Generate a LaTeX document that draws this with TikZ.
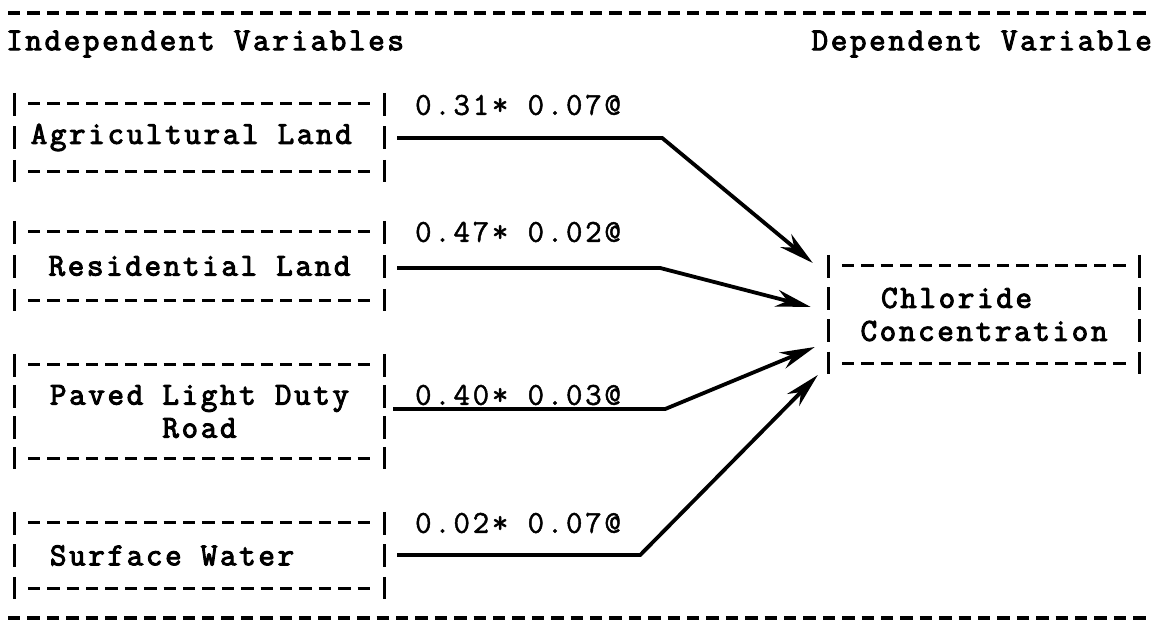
\documentclass[tikz,border=0pt]{standalone}
\usepackage{fontspec}
\newfontfamily\tw[LetterSpace=8.5, FakeBold=3.2]{Latin Modern Mono}
\newfontfamily\twl[LetterSpace=8.5, FakeBold=1.4]{Latin Modern Mono}
\usetikzlibrary{arrows.meta,calc}
\tikzset{
  txt/.style={font={\tw\fontsize{32}{33}\selectfont}, inner sep=0pt},
  tbox/.style={txt, align=center, minimum width=369pt},
  lab/.style={inner sep=0pt, font={\twl\fontsize{32}{33}\selectfont}},
  rule/.style={line width=3.8pt, dash pattern=on 12.4pt off 7pt},
  hrow/.style={line width=3.2pt, dash pattern=on 12.4pt off 7pt},
  vbar/.style={line width=2.9pt},
  conn/.style={line width=3.8pt, line join=miter, -{Stealth[length=35pt,width=17pt,inset=11pt]}},
}
\newcommand\tframe[2]{%
  \draw[hrow] ($(#1.north west)+(13,11)$) -- ($(#1.north east)+(-13,11)$);
  \draw[hrow] ($(#1.south west)+(13,-11)$) -- ($(#1.south east)+(-13,-11)$);
  \draw[vbar,dash pattern=on 23pt off #2pt] (#1.north west) -- (#1.south west);
  \draw[vbar,dash pattern=on 23pt off #2pt] (#1.north east) -- (#1.south east);
}
\begin{document}
\begin{tikzpicture}[x=1pt,y=-1pt]
\useasboundingbox (0,0) rectangle (1156,621);
\fill[white] (0,0) rectangle (1156,621);
% rules
\coordinate (rt1) at (8,13);
\coordinate (rt2) at (1148,13);
\coordinate (rb1) at (8,618);
\coordinate (rb2) at (1148,618);
\draw[rule] (rt1) -- (rt2);
\draw[rule] (rb1) -- (rb2);
% headers
\node[txt, anchor=west] (hind) at (6,44) {Independent Variables};
\node[txt, anchor=east] (hdep) at (1152,44) {Dependent Variable};
% boxes
\node[tbox, minimum height=89pt] (agr) at (199.5,137.5) {Agricultural Land\phantom{x}};
\node[tbox, minimum height=90pt] (res) at (199.5,266) {Residential Land};
\node[tbox, minimum height=115pt] (pav) at (199.5,411.5) {Paved Light Duty\\Road};
\node[tbox, minimum height=87pt] (sur) at (199.5,555.5) {Surface Water\phantom{xxx}};
\node[tbox, minimum width=310pt, minimum height=119pt] (chl) at (984,314.5) {Chloride\phantom{xxx}\\Concentration};
\tframe{agr}{10.5}
\tframe{res}{11}
\tframe{pav}{8}
\tframe{sur}{9.5}
\tframe{chl}{9.3}
% labels
\node[lab] (l1) at (518,105) {0.31* 0.07@};
\node[lab] (l2) at (518,232) {0.47* 0.02@};
\node[lab] (l3) at (518,395) {0.40* 0.03@};
\node[lab] (l4) at (518,523) {0.02* 0.07@};
% connectors
\draw[conn] ($(agr.east)+(13,0.5)$) -- ++(265,0) -- ($(chl.west)+(-16,-51.5)$);
\draw[conn] ($(res.east)+(13,2)$) -- ++(263,0) -- ($(chl.west)+(-18,-7.5)$);
\draw[conn] ($(pav.east)+(9,-2.5)$) -- ++(272,0) -- ($(chl.west)+(-14,32.5)$);
\draw[conn] ($(sur.east)+(13,-0.5)$) -- ++(243,0) -- ($(chl.west)+(-11,60.5)$);
\end{tikzpicture}
\end{document}
